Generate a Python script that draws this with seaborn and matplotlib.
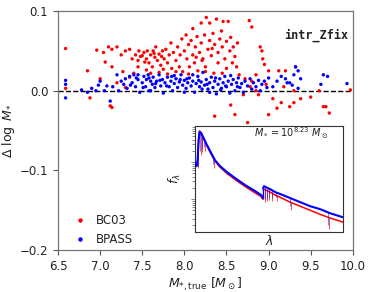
import numpy as np
import pandas as pd
import matplotlib
matplotlib.use("Agg")
import matplotlib.pyplot as plt
import seaborn as sns

# ---------------- data ----------------
bc03_x = [6.59, 6.59, 6.85, 6.88, 6.96, 7.00, 7.04, 7.06,
          7.10, 7.12, 7.14, 7.14, 7.14, 7.20, 7.25, 7.27, 7.30, 7.35, 7.38, 7.42,
          7.45, 7.46, 7.48, 7.40, 7.35, 7.20, 7.45, 7.30,
          7.50, 7.52, 7.55, 7.56, 7.58, 7.60, 7.62, 7.63, 7.65, 7.66, 7.68, 7.70,
          7.72, 7.74, 7.75, 7.76, 7.78, 7.80, 7.82, 7.84, 7.85, 7.87, 7.90, 7.92,
          7.94, 7.95, 7.97, 7.98, 7.60, 7.70, 7.55, 7.80, 7.90, 7.53, 7.64, 7.73,
          8.00, 8.02, 8.03, 8.05, 8.06, 8.08, 8.10, 8.10, 8.12, 8.13, 8.15, 8.16,
          8.18, 8.20, 8.20, 8.22, 8.24, 8.25, 8.26, 8.28, 8.30, 8.30, 8.32, 8.34,
          8.35, 8.36, 8.38, 8.40, 8.40, 8.42, 8.44, 8.45, 8.46, 8.48, 8.50, 8.50,
          8.05, 8.25, 8.45, 8.14, 8.33, 8.21,
          8.52, 8.54, 8.55, 8.57, 8.58, 8.60, 8.62, 8.63, 8.65, 8.55, 8.60, 8.70,
          8.77, 8.80, 8.72, 8.75, 8.80, 8.85, 8.78, 8.90, 8.92, 8.93, 8.85, 8.88,
          8.95, 8.97, 8.36,
          9.00, 9.05, 9.10, 9.12, 9.15, 9.20, 9.18, 9.25, 9.30, 9.32, 9.38, 9.50,
          9.60, 9.65, 9.68, 9.72, 9.97, 9.30, 9.00]
bc03_y = [0.053, 0.003, 0.025, -0.009, 0.051, 0.015, 0.048, 0.036,
          0.055, -0.019, -0.021, 0.052, 0.030, 0.055, 0.045, 0.024, 0.050, 0.052, 0.040, 0.045,
          0.038, 0.050, 0.043, 0.022, 0.017, 0.010, 0.030, 0.004,
          0.044, 0.048, 0.040, 0.050, 0.035, 0.045, 0.030, 0.050, 0.042, 0.055, 0.038, 0.046,
          0.032, 0.050, 0.027, 0.040, 0.052, 0.035, 0.045, 0.060, 0.028, 0.048, 0.038, 0.055,
          0.030, 0.045, 0.065, 0.024, 0.022, 0.023, 0.026, 0.021, 0.024, 0.036, 0.047, 0.043,
          0.050, 0.070, 0.040, 0.058, 0.030, 0.063, 0.045, 0.078, 0.035, 0.055, 0.068, 0.025,
          0.048, 0.060, 0.085, 0.040, 0.070, 0.030, 0.092, 0.052, 0.063, 0.085, 0.044, 0.072,
          0.022, 0.058, 0.090, 0.048, 0.035, 0.065, 0.075, 0.055, 0.087, 0.040, 0.062, 0.028,
          0.021, 0.024, 0.022, 0.042, 0.053, 0.038,
          0.087, 0.050, 0.067, 0.035, 0.055, 0.043, 0.030, 0.060, 0.020, -0.018, -0.030, -0.005,
          0.088, 0.080, 0.015, -0.040, 0.012, 0.020, 0.005, 0.055, 0.050, 0.040, 0.000, -0.005,
          0.033, 0.008, -0.032,
          0.025, -0.010, -0.022, 0.025, -0.015, 0.025, 0.005, -0.020, 0.000, 0.030, -0.010, -0.008,
          0.000, -0.020, -0.020, -0.028, 0.001, -0.015, -0.030]

bpass_x = [6.59, 6.59, 6.59, 6.78, 6.85, 6.90, 6.95, 6.98, 7.00, 7.05, 7.08, 7.12,
           7.15, 7.20, 7.22, 7.25, 7.28, 7.30, 7.32, 7.35, 7.38, 7.40, 7.42, 7.45,
           7.47, 7.50, 7.52, 7.54, 7.55, 7.57, 7.58, 7.60, 7.62, 7.63, 7.65, 7.67,
           7.70, 7.72, 7.74, 7.75, 7.77, 7.80, 7.82, 7.84, 7.86, 7.88, 7.90, 7.92,
           7.94, 7.96, 7.98, 8.00, 8.02, 8.04, 8.06, 8.08, 8.10, 8.12, 8.14, 8.16,
           8.18, 8.20, 8.22, 8.24, 8.26, 8.28, 8.30, 8.32, 8.34, 8.36, 8.38, 8.40,
           8.42, 8.44, 8.46, 8.48, 8.50, 8.52, 8.54, 8.56, 8.58, 8.60, 8.62, 8.64,
           8.66, 8.68, 8.70, 8.72, 8.75, 8.78, 8.80, 8.82, 8.85, 8.88, 8.90, 8.92,
           8.95, 8.98, 9.00, 9.05, 9.10, 9.15, 9.20, 9.22, 9.25, 9.28, 9.30, 9.32,
           9.35, 9.38, 9.62, 9.65, 9.70, 9.93, 9.35,
           7.45, 7.60, 7.85, 8.10, 8.30, 8.55, 8.00, 7.51, 7.58, 7.66, 7.79, 7.88,
           8.03, 8.17, 8.27, 8.43, 8.63, 7.36, 7.43, 7.71, 8.37, 8.49, 8.21, 7.95]
bpass_y = [0.013, 0.008, -0.009, 0.001, -0.002, 0.003, 0.000, 0.007, 0.012, 0.000, 0.006, -0.013,
           0.005, 0.020, 0.000, 0.012, 0.008, 0.015, 0.003, 0.018, 0.010, 0.020, 0.005, 0.014,
           -0.002, 0.010, 0.018, 0.005, 0.014, 0.020, 0.000, 0.012, 0.008, 0.017, 0.004, 0.012,
           0.020, 0.006, 0.014, -0.003, 0.010, 0.017, 0.005, 0.012, 0.000, 0.009, 0.015, 0.004,
           0.011, 0.020, 0.007, 0.013, 0.003, 0.010, 0.016, 0.006, 0.012, -0.002, 0.009, 0.018,
           0.005, 0.011, 0.023, 0.007, 0.014, 0.002, 0.010, 0.017, 0.004, 0.012, -0.004, 0.008,
           0.015, 0.003, 0.010, 0.018, 0.005, 0.012, -0.003, 0.008, 0.014, 0.000, 0.010, 0.016,
           0.004, 0.009, -0.002, 0.012, 0.006, 0.015, 0.002, 0.010, 0.005, 0.013, 0.000, 0.008,
           0.012, 0.004, 0.016, 0.005, 0.012, 0.018, 0.015, 0.010, 0.010, 0.007, 0.020, 0.030,
           0.025, 0.015, 0.008, 0.020, 0.018, 0.009, 0.003,
           0.020, 0.000, 0.018, 0.020, -0.002, 0.019, -0.002, 0.004, 0.016, 0.009, 0.006, 0.019,
           0.015, 0.013, 0.008, 0.001, 0.005, 0.007, 0.016, 0.013, 0.016, 0.006, 0.002, 0.014]

# inset spectrum (normalised wavelength, log10 flux)
spec_lam_pre = [0.003, 0.010, 0.017, 0.024, 0.030, 0.041, 0.054, 0.074, 0.101,
                0.135, 0.169, 0.216, 0.270, 0.338, 0.405, 0.446, 0.456]
blue_logf_pre = [0.97, 0.89, 1.05, 1.59, 1.81, 1.78, 1.68, 1.51, 1.30,
                 1.05, 0.89, 0.73, 0.57, 0.38, 0.22, 0.11, 0.05]
red_logf_pre = [0.97, 0.89, 1.05, 1.62, 1.84, 1.80, 1.66, 1.49, 1.27,
                1.02, 0.86, 0.69, 0.53, 0.34, 0.17, 0.07, 0.00]
spec_lam_post = [0.459, 0.466, 0.480, 0.507, 0.541, 0.574, 0.642, 0.709, 0.777,
                 0.845, 0.912, 1.000]
blue_logf_post = [0.30, 0.35, 0.32, 0.27, 0.19, 0.14, 0.03, -0.08, -0.19,
                  -0.27, -0.38, -0.49]
red_logf_post = [0.24, 0.27, 0.24, 0.19, 0.11, 0.05, -0.08, -0.19, -0.30,
                 -0.41, -0.51, -0.62]
# absorption lines: wavelength, top, bottom (log10 flux)
abs_lam = [0.020, 0.034, 0.047, 0.061, 0.122, 0.470, 0.483, 0.497, 0.517, 0.547,
           0.642, 0.899]
abs_blue_top = [1.20, 1.79, 1.72, 1.62, 1.12, 0.34, 0.31, 0.28, 0.25, 0.18, 0.03, -0.36]
abs_blue_bot = [0.90, 1.30, 1.35, 1.40, 0.95, 0.00, 0.02, 0.05, 0.03, 0.05, -0.18, -0.70]
abs_red_top = [1.22, 1.82, 1.72, 1.60, 1.09, 0.27, 0.24, 0.20, 0.17, 0.10, -0.08, -0.49]
abs_red_bot = [0.85, 1.20, 1.28, 1.30, 0.85, -0.08, -0.05, -0.02, -0.05, -0.05, -0.30, -0.80]

# ---------------- plot ----------------
sns.set_style("ticks")
plt.rcParams['font.family'] = ['DejaVu Sans']
plt.rcParams['mathtext.fontset'] = 'dejavusans'

fig = plt.figure(figsize=(3.73, 2.92), dpi=100)
ax = fig.add_axes([0.1555, 0.144, 0.7905, 0.818])

df = pd.DataFrame({
    "x": bc03_x + bpass_x,
    "y": bc03_y + bpass_y,
    "model": ["BC03"] * len(bc03_x) + ["BPASS"] * len(bpass_x),
})
sns.scatterplot(data=df, x="x", y="y", hue="model",
                palette={"BC03": "red", "BPASS": "blue"},
                s=6, linewidth=0, ax=ax, zorder=3)
ax.axhline(0.0, color="black", ls="--", lw=1.0, zorder=2)

ax.set_xlim(6.5, 10.0)
ax.set_ylim(-0.2, 0.1)
ax.set_xticks([6.5, 7.0, 7.5, 8.0, 8.5, 9.0, 9.5, 10.0])
ax.set_yticks([-0.2, -0.1, 0.0, 0.1])
ax.tick_params(labelsize=8.5, colors="#555555", labelcolor="#222222", length=3.5, width=0.8)
for sp in ax.spines.values():
    sp.set_color("#777777")
    sp.set_linewidth(0.9)
ax.set_xlabel(r"$M_{*,\mathrm{true}}\ [M_\odot]$", fontsize=9, color="#222222", labelpad=2)
ax.set_ylabel(r"$\Delta\ \log\ M_{*}$", fontsize=9, color="#222222", labelpad=2)

leg = ax.legend(loc="lower left", bbox_to_anchor=(0.0, -0.03), frameon=False,
                fontsize=8.5, handletextpad=0.3, markerscale=1.3, title=None,
                labelspacing=0.55)
for t in leg.get_texts():
    t.set_color("#222222")

ax.text(0.985, 0.9, "intr_Zfix", transform=ax.transAxes, ha="right", va="center",
        family="DejaVu Sans Mono", fontweight="bold", fontsize=8.5, color="#222222")

# inset
axin = fig.add_axes([0.523, 0.205, 0.397, 0.363])
axin.set_yscale("log")
pre = pd.DataFrame({"lam": spec_lam_pre,
                    "blue": [10 ** v for v in blue_logf_pre],
                    "red": [10 ** v for v in red_logf_pre]})
post = pd.DataFrame({"lam": spec_lam_post,
                     "blue": [10 ** v for v in blue_logf_post],
                     "red": [10 ** v for v in red_logf_post]})
for col, c, lw in (("red", "red", 1.1), ("blue", "blue", 1.5)):
    sns.lineplot(data=pre, x="lam", y=col, color=c, lw=lw, ax=axin, zorder=3 if c == "blue" else 2)
    sns.lineplot(data=post, x="lam", y=col, color=c, lw=lw, ax=axin, zorder=3 if c == "blue" else 2)
axin.vlines([l + 0.003 for l in abs_lam], [10 ** v for v in abs_red_bot],
            [10 ** v for v in abs_red_top], color="red", lw=0.6, alpha=0.8, zorder=2)
axin.vlines(abs_lam, [10 ** v for v in abs_blue_bot],
            [10 ** v for v in abs_blue_top], color="blue", lw=0.6, alpha=0.6, zorder=3)
# jump edges
axin.vlines([spec_lam_pre[-1]], [10 ** red_logf_pre[-1]], [10 ** blue_logf_post[0]],
            color="blue", lw=1.0, zorder=3)

axin.set_xlim(0, 1)
axin.set_ylim(10 ** -0.89, 10 ** 1.97)
axin.set_xticks([])
axin.yaxis.set_major_formatter(matplotlib.ticker.NullFormatter())
axin.yaxis.set_minor_formatter(matplotlib.ticker.NullFormatter())
axin.tick_params(axis="y", which="both", colors="#555555", length=2, width=0.5)
axin.tick_params(axis="y", which="major", length=3)
for sp in axin.spines.values():
    sp.set_color("#333333")
    sp.set_linewidth(0.8)
axin.set_xlabel(r"$\lambda$", fontsize=9, labelpad=1, color="#222222")
axin.set_ylabel(r"$f_\lambda$", fontsize=9, labelpad=2, color="#222222")
axin.text(0.4, 0.93, r"$M_* = 10^{8.23}\ M_\odot$", transform=axin.transAxes,
          fontsize=7, ha="left", va="center", color="#222222")

fig.savefig("out.png", dpi=100)
